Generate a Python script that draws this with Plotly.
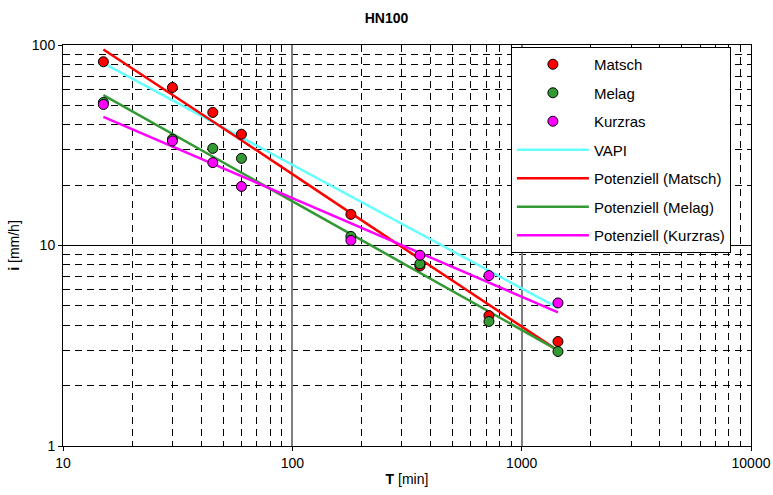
import plotly.graph_objects as go

T = [15, 30, 45, 60, 180, 360, 720, 1440]
matsch = [82.5, 61.4, 46.1, 35.9, 14.3, 7.9, 4.47, 3.32]
melag = [51.7, 33.9, 30.5, 27.2, 11.1, 8.1, 4.18, 2.96]
kurzras = [50.5, 33.2, 25.9, 19.7, 10.6, 8.94, 7.08, 5.17]
vapi = [81.3, 53.0, 41.3, 34.6, 17.6, 11.5, 7.47, 4.88]
fit_matsch = [95.0, 56.6, 41.6, 33.5, 14.5, 8.57, 5.06, 2.99]
fit_melag = [56.2, 36.0, 27.8, 23.1, 11.4, 7.31, 4.69, 3.0]
fit_kurzras = [43.8, 31.2, 25.5, 22.2, 12.9, 9.18, 6.53, 4.64]

FONT = "Liberation Sans, Arial, sans-serif"

fig = go.Figure()

def pts(name, y, color, g, rank):
    fig.add_trace(go.Scatter(x=T, y=y, mode="markers", name=name, legendgroup=g, legendrank=rank,
                             marker=dict(color=color, size=10, line=dict(color="black", width=1))))

def line(name, y, color, g, rank):
    fig.add_trace(go.Scatter(x=T, y=y, mode="lines", name=name, legendgroup=g, legendrank=rank,
                             line=dict(color=color, width=2.5)))

line("VAPI", vapi, "#66FFFF", "g4", 4)
line("Potenziell (Matsch)", fit_matsch, "#FF0000", "g5", 5)
line("Potenziell (Melag)", fit_melag, "#339933", "g6", 6)
line("Potenziell (Kurzras)", fit_kurzras, "#FF00FF", "g7", 7)
pts("Matsch", matsch, "#FF0000", "g1", 1)
pts("Melag", melag, "#339933", "g2", 2)
pts("Kurzras", kurzras, "#FF00FF", "g3", 3)

axis_common = dict(
    type="log", showline=True, linecolor="black", linewidth=1, mirror=True,
    ticks="outside", ticklen=4, tickcolor="black", zeroline=False, automargin=False,
    ticklabeloverflow="allow",
    tickfont=dict(family=FONT, size=14, color="black"),
    minor=dict(dtick="D1", showgrid=True, gridcolor="black", griddash="7px,5px",
               gridwidth=1, ticks=""),
)

fig.update_layout(
    width=773, height=495,
    margin=dict(l=63, r=22, t=45, b=49, autoexpand=False),
    paper_bgcolor="white", plot_bgcolor="white",
    font=dict(family=FONT, size=14, color="black"),
    title=dict(text="<b>HN100</b>", x=0.5, xanchor="center", y=1 - 18 / 495,
               yanchor="middle", yref="container",
               font=dict(family=FONT, size=14, color="black")),
    showlegend=True,
    legend=dict(x=0.651, y=0.995, xanchor="left", yanchor="top",
                bgcolor="white", bordercolor="black", borderwidth=1,
                font=dict(family=FONT, size=15, color="black"),
                tracegroupgap=6, traceorder="grouped", itemwidth=72),
)

fig.update_xaxes(**axis_common, range=[1, 4], tickvals=[10, 100, 1000, 10000],
                 ticktext=["10", "100", "1000", "10000"],
                 showgrid=True, gridcolor="#808080", gridwidth=1.5,
                 title=dict(text="<b>T</b> [min]", standoff=4, font=dict(family=FONT, size=14)))
fig.update_yaxes(**axis_common, range=[0, 2], tickvals=[1, 10, 100],
                 ticktext=["1", "10", "100"],
                 showgrid=True, gridcolor="black", gridwidth=1,
                 title=dict(text="<b>i</b> [mm/h]", standoff=8, font=dict(family=FONT, size=14)))

fig.write_html(
    "out.html",
    config={"displayModeBar": False},
    post_script=("document.body.style.margin='0';"
                 "document.body.style.overflow='hidden';"
                 "document.documentElement.style.overflow='hidden';"),
)
